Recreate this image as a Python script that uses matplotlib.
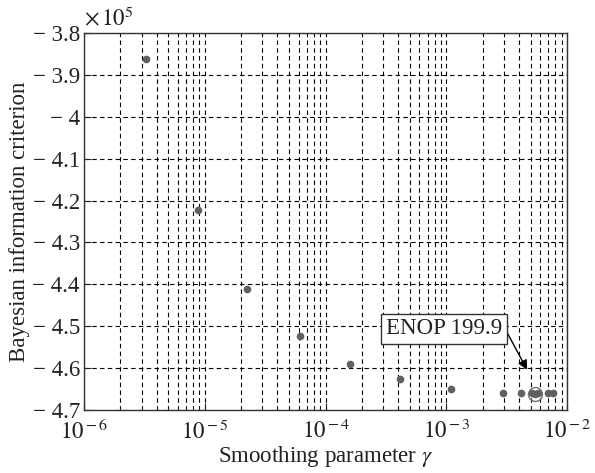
import matplotlib
matplotlib.use("Agg")
import matplotlib.pyplot as plt
import math
from matplotlib.ticker import FixedLocator, FuncFormatter, LogLocator, NullFormatter

plt.rcParams['font.family'] = ['Liberation Serif', 'DejaVu Serif']
plt.rcParams['mathtext.fontset'] = 'stix'

gamma = [3.25e-6, 8.75e-6, 2.22e-5, 6.1e-5, 1.58e-4, 4.17e-4, 1.1e-3,
         2.95e-3, 4.16e-3, 5.13e-3, 5.43e-3, 5.75e-3, 6.96e-3, 7.65e-3]
bic = [-3.862e5, -4.222e5, -4.412e5, -4.524e5, -4.589e5, -4.627e5, -4.649e5,
       -4.660e5, -4.660e5, -4.660e5, -4.661e5, -4.660e5, -4.660e5, -4.660e5]
best_gamma = 5.43e-3
best_bic = -4.661e5
annot_text = "ENOP 199.9"
annot_text_pos = (9.6e-4, -4.506e5)
annot_arrow_tip = (4.67e-3, -4.604e5)
yticks = [-3.8e5, -3.9e5, -4.0e5, -4.1e5, -4.2e5, -4.3e5, -4.4e5, -4.5e5, -4.6e5, -4.7e5]

fig = plt.figure(figsize=(5.95, 4.73), dpi=100)
ax = fig.add_axes([0.1412, 0.1332, 0.8118, 0.7968])

ax.set_xscale('log')
ax.set_xlim(1e-6, 1e-2)
ax.set_ylim(-4.7e5, -3.8e5)

ax.plot(gamma, bic, linestyle='none', marker='o', markersize=4.5,
        color='#606060', markeredgecolor='#606060', zorder=3)
ax.plot([best_gamma], [best_bic], linestyle='none', marker='o', markersize=10,
        markerfacecolor='none', markeredgecolor='#707070', markeredgewidth=1.0, zorder=3)

ax.yaxis.set_major_locator(FixedLocator(yticks))

def yfmt(v, pos):
    s = '%g' % round(v / 1e5, 3)
    return s.replace('-', '\u2212 ')
ax.yaxis.set_major_formatter(FuncFormatter(yfmt))

def xfmt(v, pos):
    e = int(round(math.log10(v)))
    return r'$10^{\,\mathrm{-}\,%d}$' % (-e) if e < 0 else r'$10^{%d}$' % e
ax.xaxis.set_major_locator(LogLocator(base=10, numticks=10))
ax.xaxis.set_major_formatter(FuncFormatter(xfmt))
ax.xaxis.set_minor_locator(LogLocator(base=10, subs=range(2, 10), numticks=20))
ax.xaxis.set_minor_formatter(NullFormatter())

ax.grid(True, which='major', axis='both', linestyle=(0, (4, 3)), color='black', linewidth=0.8)
ax.grid(True, which='minor', axis='x', linestyle=(0, (4, 3)), color='black', linewidth=0.8)

ax.tick_params(axis='both', which='both', direction='in', labelsize=16.5, colors='#222222')
ax.tick_params(axis='both', which='major', length=5)
ax.tick_params(axis='x', which='minor', length=3)
ax.tick_params(axis='x', pad=7)
ax.tick_params(axis='y', pad=3)
for sp in ax.spines.values():
    sp.set_color('#333333')
    sp.set_linewidth(1.0)

ax.set_xlabel(r'Smoothing parameter $\it{\gamma}$', fontsize=16.5, color='#222222', labelpad=0)
ax.set_ylabel('Bayesian information criterion', fontsize=16.5, color='#222222', labelpad=2)

ax.text(0.0, 1.005, r'$\times\,10^{5}$', transform=ax.transAxes, fontsize=16.5,
        ha='left', va='bottom', color='#222222')

ax.annotate(annot_text, xy=annot_arrow_tip, xytext=annot_text_pos,
            fontsize=16.5, ha='center', va='center', color='#222222',
            bbox=dict(boxstyle='square,pad=0.2', facecolor='white', edgecolor='#333333', linewidth=1.0),
            arrowprops=dict(arrowstyle='-|>', color='black', linewidth=1.0,
                            mutation_scale=14, shrinkA=0, shrinkB=0, relpos=(1.0, 0.75)))

fig.savefig('out.png', dpi=100)
